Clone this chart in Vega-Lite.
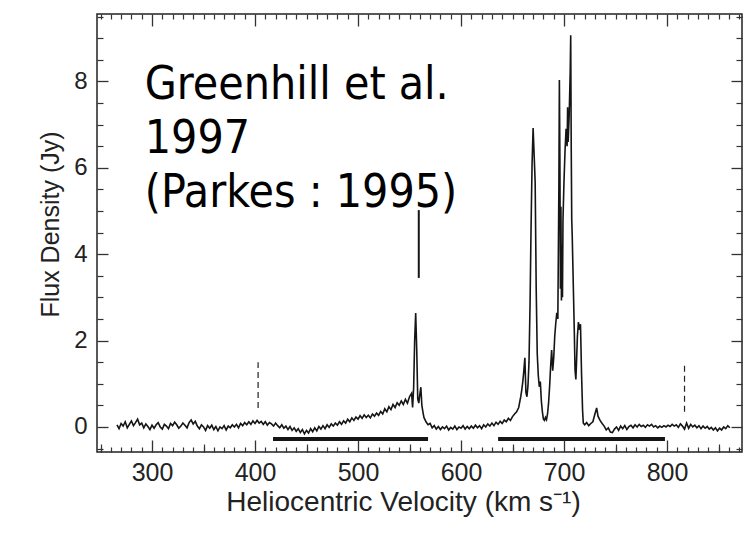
{
  "$schema": "https://vega.github.io/schema/vega-lite/v6.json",
  "width": 645,
  "height": 438,
  "autosize": {"type": "none"},
  "padding": {"left": 97, "top": 14, "right": 7, "bottom": 100},
  "background": "white",
  "config": {
    "view": {"stroke": "#222", "strokeWidth": 1.5},
    "axis": {"zindex": 1, "labelFont": "Liberation Sans", "labelColor": "#222", "titleFont": "Liberation Sans", "titleColor": "#222", "titleFontWeight": "normal"}
  },
  "datasets": {
    "spec": [
      {"v":266,"f":0.05},{"v":268,"f":-0.04},{"v":270,"f":0.08},{"v":272,"f":0.02},{"v":274,"f":0.12},{"v":276,"f":-0.02},{"v":278,"f":0.06},{"v":280,"f":0.14},{"v":282,"f":0.03},{"v":284,"f":0.10},{"v":286,"f":0.18},{"v":288,"f":0.05},{"v":290,"f":0.09},{"v":292,"f":-0.02},{"v":294,"f":0.07},{"v":296,"f":0.01},{"v":298,"f":-0.06},{"v":300,"f":0.04},{"v":302,"f":-0.03},{"v":304,"f":0.05},{"v":306,"f":0.10},{"v":308,"f":0.00},{"v":310,"f":-0.05},{"v":312,"f":0.06},{"v":314,"f":0.02},{"v":316,"f":-0.04},{"v":318,"f":0.08},{"v":320,"f":0.03},{"v":322,"f":0.11},{"v":324,"f":0.05},{"v":326,"f":-0.03},{"v":328,"f":0.02},{"v":330,"f":0.09},{"v":332,"f":0.04},{"v":334,"f":-0.02},{"v":336,"f":0.10},{"v":338,"f":0.16},{"v":340,"f":0.07},{"v":342,"f":0.13},{"v":344,"f":0.02},{"v":346,"f":-0.04},{"v":348,"f":0.05},{"v":350,"f":0.00},{"v":352,"f":-0.08},{"v":354,"f":0.03},{"v":356,"f":-0.03},{"v":358,"f":0.04},{"v":360,"f":-0.06},{"v":362,"f":0.01},{"v":364,"f":-0.09},{"v":366,"f":0.00},{"v":368,"f":-0.04},{"v":370,"f":0.03},{"v":372,"f":-0.07},{"v":374,"f":0.02},{"v":376,"f":-0.02},{"v":378,"f":0.05},{"v":380,"f":0.00},{"v":382,"f":0.06},{"v":384,"f":-0.02},{"v":386,"f":0.08},{"v":388,"f":0.03},{"v":390,"f":0.10},{"v":392,"f":0.05},{"v":394,"f":0.12},{"v":396,"f":0.06},{"v":398,"f":0.14},{"v":400,"f":0.08},{"v":402,"f":0.15},{"v":404,"f":0.09},{"v":406,"f":0.13},{"v":408,"f":0.06},{"v":410,"f":0.12},{"v":412,"f":0.04},{"v":414,"f":0.10},{"v":416,"f":0.07},{"v":418,"f":0.02},{"v":420,"f":0.09},{"v":422,"f":0.03},{"v":424,"f":-0.02},{"v":426,"f":0.05},{"v":428,"f":-0.03},{"v":430,"f":0.02},{"v":432,"f":-0.06},{"v":434,"f":0.01},{"v":436,"f":-0.08},{"v":438,"f":-0.02},{"v":440,"f":-0.10},{"v":442,"f":-0.04},{"v":444,"f":-0.13},{"v":446,"f":-0.06},{"v":448,"f":-0.16},{"v":450,"f":-0.08},{"v":452,"f":-0.14},{"v":454,"f":-0.04},{"v":456,"f":-0.11},{"v":458,"f":-0.02},{"v":460,"f":-0.09},{"v":462,"f":0.01},{"v":464,"f":-0.05},{"v":466,"f":0.03},{"v":468,"f":-0.04},{"v":470,"f":0.05},{"v":472,"f":-0.01},{"v":474,"f":0.07},{"v":476,"f":0.02},{"v":478,"f":0.09},{"v":480,"f":0.04},{"v":482,"f":0.12},{"v":484,"f":0.06},{"v":486,"f":0.14},{"v":488,"f":0.09},{"v":490,"f":0.18},{"v":492,"f":0.12},{"v":494,"f":0.21},{"v":496,"f":0.15},{"v":498,"f":0.23},{"v":500,"f":0.18},{"v":502,"f":0.26},{"v":504,"f":0.20},{"v":506,"f":0.28},{"v":508,"f":0.22},{"v":510,"f":0.27},{"v":512,"f":0.21},{"v":514,"f":0.30},{"v":516,"f":0.25},{"v":518,"f":0.32},{"v":520,"f":0.27},{"v":522,"f":0.36},{"v":524,"f":0.30},{"v":526,"f":0.42},{"v":528,"f":0.35},{"v":530,"f":0.47},{"v":532,"f":0.40},{"v":534,"f":0.52},{"v":536,"f":0.45},{"v":538,"f":0.56},{"v":540,"f":0.50},{"v":542,"f":0.60},{"v":544,"f":0.52},{"v":546,"f":0.64},{"v":548,"f":0.55},{"v":550,"f":0.70},{"v":552,"f":0.78},{"v":553,"f":0.45},{"v":554,"f":0.90},{"v":555,"f":2.0},{"v":556,"f":2.64},{"v":557,"f":1.8},{"v":558,"f":0.65},{"v":559,"f":0.55},{"v":560,"f":0.75},{"v":561,"f":0.92},{"v":562,"f":0.50},{"v":563,"f":0.35},{"v":564,"f":0.22},{"v":566,"f":0.12},{"v":568,"f":0.05},{"v":570,"f":0.08},{"v":572,"f":-0.02},{"v":574,"f":0.03},{"v":576,"f":-0.05},{"v":578,"f":0.01},{"v":580,"f":-0.06},{"v":582,"f":0.00},{"v":584,"f":-0.04},{"v":586,"f":0.02},{"v":588,"f":-0.07},{"v":590,"f":-0.01},{"v":592,"f":-0.05},{"v":594,"f":0.02},{"v":596,"f":-0.06},{"v":598,"f":0.00},{"v":600,"f":-0.03},{"v":602,"f":0.03},{"v":604,"f":-0.05},{"v":606,"f":0.01},{"v":608,"f":-0.04},{"v":610,"f":0.02},{"v":612,"f":-0.03},{"v":614,"f":0.04},{"v":616,"f":-0.02},{"v":618,"f":0.03},{"v":620,"f":-0.04},{"v":622,"f":0.05},{"v":624,"f":0.00},{"v":626,"f":0.07},{"v":628,"f":0.02},{"v":630,"f":0.09},{"v":632,"f":0.03},{"v":634,"f":0.11},{"v":636,"f":0.06},{"v":638,"f":0.13},{"v":640,"f":0.08},{"v":642,"f":0.16},{"v":644,"f":0.12},{"v":646,"f":0.20},{"v":648,"f":0.15},{"v":650,"f":0.24},{"v":652,"f":0.30},{"v":654,"f":0.35},{"v":656,"f":0.45},{"v":658,"f":0.70},{"v":659,"f":0.86},{"v":660,"f":1.05},{"v":661,"f":1.30},{"v":662,"f":1.60},{"v":663,"f":0.80},{"v":664,"f":0.70},{"v":665,"f":0.95},{"v":666,"f":1.50},{"v":667,"f":2.80},{"v":668,"f":4.60},{"v":669,"f":6.10},{"v":670,"f":6.92},{"v":671,"f":6.30},{"v":672,"f":5.65},{"v":673,"f":3.20},{"v":674,"f":1.70},{"v":675,"f":1.20},{"v":676,"f":0.93},{"v":677,"f":1.05},{"v":678,"f":0.60},{"v":679,"f":0.35},{"v":680,"f":0.18},{"v":681,"f":0.15},{"v":682,"f":0.22},{"v":683,"f":0.17},{"v":684,"f":0.30},{"v":685,"f":0.55},{"v":686,"f":0.93},{"v":687,"f":1.40},{"v":688,"f":1.78},{"v":689,"f":1.30},{"v":690,"f":1.60},{"v":691,"f":2.10},{"v":692,"f":2.40},{"v":693,"f":2.64},{"v":694,"f":2.50},{"v":695,"f":5.50},{"v":695.5,"f":8.03},{"v":696,"f":6.20},{"v":696.5,"f":3.20},{"v":697,"f":5.10},{"v":697.5,"f":2.93},{"v":698,"f":4.20},{"v":698.5,"f":3.00},{"v":699,"f":4.80},{"v":700,"f":5.70},{"v":701,"f":6.40},{"v":702,"f":6.90},{"v":703,"f":6.50},{"v":703.5,"f":7.40},{"v":704,"f":6.60},{"v":705,"f":7.20},{"v":706,"f":8.20},{"v":706.5,"f":9.07},{"v":707,"f":6.50},{"v":707.5,"f":4.80},{"v":708,"f":4.40},{"v":709,"f":3.30},{"v":710,"f":2.20},{"v":710.7,"f":1.32},{"v":711.5,"f":1.10},{"v":712,"f":1.40},{"v":713,"f":2.10},{"v":714,"f":2.43},{"v":715,"f":2.25},{"v":716,"f":2.38},{"v":717,"f":1.25},{"v":718,"f":0.40},{"v":718.7,"f":0.09},{"v":720,"f":0.05},{"v":722,"f":0.10},{"v":724,"f":0.03},{"v":726,"f":0.08},{"v":728,"f":0.12},{"v":730,"f":0.30},{"v":731.7,"f":0.44},{"v":733,"f":0.25},{"v":735,"f":0.15},{"v":737,"f":0.08},{"v":739,"f":0.02},{"v":741,"f":-0.07},{"v":743,"f":-0.02},{"v":745,"f":-0.12},{"v":747,"f":-0.13},{"v":749,"f":-0.05},{"v":751,"f":0.00},{"v":753,"f":-0.08},{"v":755,"f":0.02},{"v":757,"f":-0.04},{"v":759,"f":0.03},{"v":761,"f":-0.06},{"v":763,"f":0.01},{"v":765,"f":0.04},{"v":767,"f":-0.02},{"v":769,"f":0.05},{"v":771,"f":0.00},{"v":773,"f":0.06},{"v":775,"f":0.01},{"v":777,"f":0.04},{"v":779,"f":-0.01},{"v":781,"f":0.05},{"v":783,"f":0.02},{"v":785,"f":0.06},{"v":787,"f":0.00},{"v":789,"f":0.03},{"v":791,"f":-0.02},{"v":793,"f":0.02},{"v":795,"f":-0.01},{"v":797,"f":0.03},{"v":799,"f":0.00},{"v":801,"f":0.04},{"v":803,"f":0.01},{"v":805,"f":0.06},{"v":807,"f":0.02},{"v":809,"f":0.05},{"v":811,"f":-0.01},{"v":813,"f":0.07},{"v":815,"f":0.02},{"v":817,"f":-0.05},{"v":819,"f":0.09},{"v":821,"f":-0.03},{"v":823,"f":0.06},{"v":825,"f":0.00},{"v":827,"f":0.04},{"v":829,"f":-0.02},{"v":831,"f":0.03},{"v":833,"f":-0.04},{"v":835,"f":0.02},{"v":837,"f":-0.03},{"v":839,"f":0.01},{"v":841,"f":-0.05},{"v":843,"f":-0.01},{"v":845,"f":-0.07},{"v":847,"f":-0.02},{"v":849,"f":-0.09},{"v":851,"f":-0.03},{"v":853,"f":-0.07},{"v":855,"f":0.00},{"v":857,"f":-0.04},{"v":859,"f":0.03},{"v":861,"f":-0.02}
    ],
    "dashed": [
      {"v": 403, "f1": 0.44, "f2": 1.5},
      {"v": 817, "f1": 0.35, "f2": 1.43}
    ],
    "bars": [
      {"v1": 417.5, "v2": 568, "f": -0.28},
      {"v1": 636, "v2": 798, "f": -0.28}
    ],
    "segment": [
      {"v": 559, "f1": 3.45, "f2": 5.02}
    ],
    "note": [
      {"v": 293, "f": 7.59, "label": "Greenhill et al.\n1997\n(Parkes : 1995)"}
    ]
  },
  "layer": [
    {
      "data": {"name": "spec"},
      "mark": {"type": "line", "color": "#151515", "strokeWidth": 1.6, "clip": true},
      "encoding": {
        "x": {"field": "v", "type": "quantitative",
          "scale": {"domain": [246.6, 872.8], "nice": false, "zero": false},
          "axis": {"orient": "bottom", "zindex": 1, "domain": true, "domainOpacity": 0, "grid": false, "ticks": true, "tickColor": "#333", "tickWidth": 1.3, "offset": -12, "tickSize": 12, "title": "Heliocentric Velocity (km s⁻¹)", "titleFontSize": 28, "titleY": 48, "titleBaseline": "top", "titleX": 306,
            "values": [300, 400, 500, 600, 700, 800], "format": "d", "labelOverlap": false, "labelFlush": false,
            "labelFontSize": 25, "labelPadding": 8}
        },
        "y": {"field": "f", "type": "quantitative",
          "scale": {"domain": [-0.58, 9.56], "nice": false, "zero": false},
          "axis": {"orient": "left", "zindex": 1, "domain": true, "domainOpacity": 0, "grid": false, "ticks": true, "tickColor": "#333", "tickWidth": 1.3, "offset": -11, "tickSize": 11, "title": "Flux Density  (Jy)", "titleFontSize": 25, "titlePadding": 10, "titleY": 210,
            "values": [0, 2, 4, 6, 8], "format": "d", "labelOverlap": false, "labelFlush": false,
            "labelFontSize": 24, "labelPadding": 10}
        }
      }
    },
    {
      "data": {"name": "dashed"},
      "mark": {"type": "rule", "color": "#222", "strokeWidth": 1.2, "strokeDash": [6, 4]},
      "encoding": {
        "x": {"field": "v", "type": "quantitative",
          "axis": {"orient": "top", "zindex": 1, "domain": true, "domainOpacity": 0, "grid": false, "ticks": true, "tickColor": "#333", "tickWidth": 1.3, "offset": -12, "tickSize": 12, "title": null, "labels": false, "values": [300, 400, 500, 600, 700, 800]}
        },
        "y": {"field": "f1", "type": "quantitative",
          "axis": {"orient": "right", "zindex": 1, "domain": true, "domainOpacity": 0, "grid": false, "ticks": true, "tickColor": "#333", "tickWidth": 1.3, "offset": -11, "tickSize": 11, "title": null, "labels": false, "values": [0, 2, 4, 6, 8]}
        },
        "y2": {"field": "f2"}
      }
    },
    {
      "data": {"name": "bars"},
      "mark": {"type": "rule", "color": "#151515", "strokeWidth": 4},
      "encoding": {
        "x": {"field": "v1", "type": "quantitative",
          "axis": {"orient": "bottom", "zindex": 1, "domain": true, "domainOpacity": 0, "grid": false, "ticks": true, "tickColor": "#333", "tickWidth": 1.2, "offset": -5, "tickSize": 5, "title": null, "labels": false,
            "values": [250,260,270,280,290,310,320,330,340,350,360,370,380,390,410,420,430,440,450,460,470,480,490,510,520,530,540,550,560,570,580,590,610,620,630,640,650,660,670,680,690,710,720,730,740,750,760,770,780,790,810,820,830,840,850,860,870]}
        },
        "x2": {"field": "v2"},
        "y": {"field": "f", "type": "quantitative",
          "axis": {"orient": "left", "zindex": 1, "domain": true, "domainOpacity": 0, "grid": false, "ticks": true, "tickColor": "#333", "tickWidth": 1.2, "offset": -6, "tickSize": 6, "title": null, "labels": false,
            "values": [-0.5,0.5,1,1.5,2.5,3,3.5,4.5,5,5.5,6.5,7,7.5,8.5,9,9.5]}
        }
      }
    },
    {
      "data": {"name": "segment"},
      "mark": {"type": "rule", "color": "#151515", "strokeWidth": 2},
      "encoding": {
        "x": {"field": "v", "type": "quantitative",
          "axis": {"orient": "top", "zindex": 1, "domain": true, "domainOpacity": 0, "grid": false, "ticks": true, "tickColor": "#333", "tickWidth": 1.2, "offset": -5, "tickSize": 5, "title": null, "labels": false,
            "values": [250,260,270,280,290,310,320,330,340,350,360,370,380,390,410,420,430,440,450,460,470,480,490,510,520,530,540,550,560,570,580,590,610,620,630,640,650,660,670,680,690,710,720,730,740,750,760,770,780,790,810,820,830,840,850,860,870]}
        },
        "y": {"field": "f1", "type": "quantitative",
          "axis": {"orient": "right", "zindex": 1, "domain": true, "domainOpacity": 0, "grid": false, "ticks": true, "tickColor": "#333", "tickWidth": 1.2, "offset": -6, "tickSize": 6, "title": null, "labels": false,
            "values": [-0.5,0.5,1,1.5,2.5,3,3.5,4.5,5,5.5,6.5,7,7.5,8.5,9,9.5]}
        },
        "y2": {"field": "f2"}
      }
    },
    {
      "data": {"name": "note"},
      "mark": {"type": "text", "font": "DejaVu Sans Condensed", "fontSize": 46, "lineHeight": 54, "align": "left", "baseline": "alphabetic", "color": "#000", "lineBreak": "\n"},
      "encoding": {
        "x": {"field": "v", "type": "quantitative",
          "axis": {"orient": "bottom", "zindex": 1, "domain": true, "domainOpacity": 0, "grid": false, "ticks": true, "tickColor": "#333", "tickWidth": 1.2, "offset": -8, "tickSize": 8, "title": null, "labels": false, "values": [250, 350, 450, 550, 650, 750, 850]}
        },
        "y": {"field": "f", "type": "quantitative", "axis": null},
        "text": {"field": "label"}
      }
    }
  ],
  "resolve": {"axis": {"x": "independent", "y": "independent"}}
}
